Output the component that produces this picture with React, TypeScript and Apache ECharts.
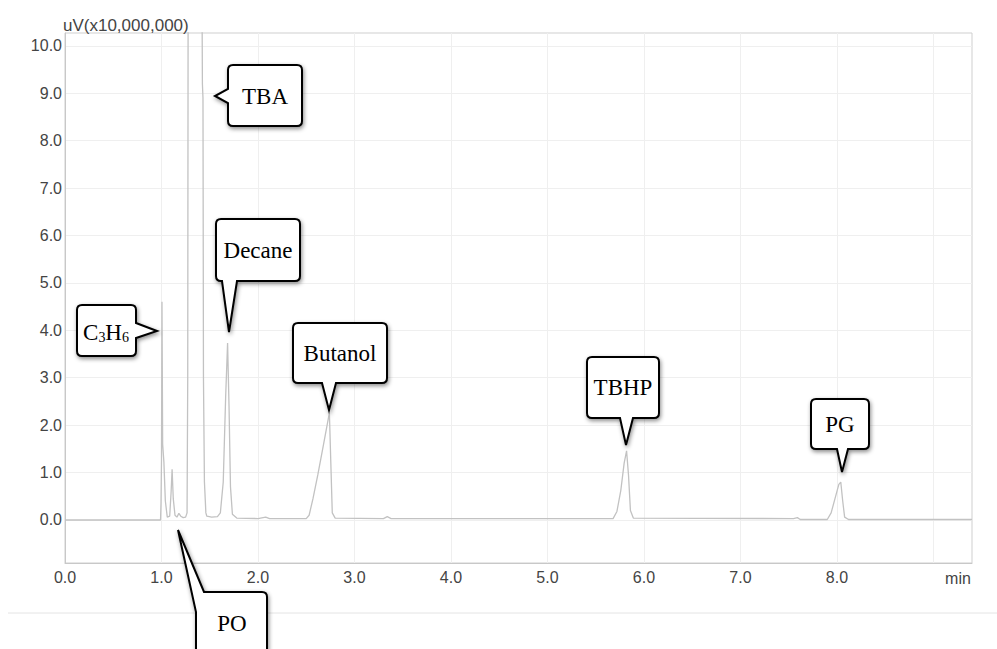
import React, { useEffect, useRef } from "react";
import * as echarts from "echarts";

// Chromatogram trace (retention time in min, signal in uV x 10,000,000)
const retentionTime = [
  0.0, 0.5, 0.99, 0.995, 1.0, 1.005, 1.012, 1.025, 1.04, 1.06, 1.085, 1.1, 1.11, 1.122,
  1.14, 1.16, 1.18, 1.2, 1.225, 1.25, 1.265, 1.272, 1.276, 1.42, 1.424, 1.43, 1.435,
  1.445, 1.46, 1.47, 1.52, 1.58, 1.61, 1.64, 1.665, 1.685, 1.7, 1.715, 1.735, 1.78,
  2.0, 2.08, 2.12, 2.5, 2.53, 2.57, 2.62, 2.68, 2.74, 2.755, 2.77, 2.8, 3.3, 3.34,
  3.38, 5.68, 5.72, 5.76, 5.795, 5.82, 5.84, 5.86, 5.89, 7.55, 7.59, 7.62, 7.9, 7.94,
  7.98, 8.02, 8.04, 8.06, 8.08, 8.12, 9.4,
];
const signal = [
  0.0, 0.0, 0.0, 0.35, 1.25, 4.6, 1.6, 1.22, 0.4, 0.06, 0.08, 0.6, 1.07, 0.45,
  0.1, 0.06, 0.14, 0.08, 0.05, 0.06, 0.15, 3.0, 11.0, 11.0, 9.2, 8.9, 3.0,
  0.8, 0.15, 0.08, 0.06, 0.07, 0.15, 0.8, 2.6, 3.73, 2.4, 0.7, 0.12, 0.04,
  0.03, 0.06, 0.03, 0.03, 0.1, 0.45, 0.95, 1.6, 2.26, 1.2, 0.15, 0.04, 0.03, 0.07,
  0.03, 0.03, 0.18, 0.62, 1.2, 1.46, 0.95, 0.2, 0.04, 0.03, 0.05, 0.01, 0.01, 0.15,
  0.45, 0.75, 0.8, 0.4, 0.06, 0.01, 0.01,
];

const yTickValues = [0, 1, 2, 3, 4, 5, 6, 7, 8, 9, 10];
const xLabelValues = [0, 1, 2, 3, 4, 5, 6, 7, 8];
const xGridValues = [0, 1, 2, 3, 4, 5, 6, 7, 8, 9];

const yAxisTitle = "uV(x10,000,000)";
const xAxisUnit = "min";

type Callout = {
  name: string;
  label: string;
  x: number; y: number; w: number; h: number;
  side: "left" | "right" | "bottom" | "topleft";
  tx: number; ty: number; b1: number; b2: number;
  cx: number; cy: number;
};

const callouts: Callout[] = [
  { name: "tba", label: "TBA", x: 228, y: 65, w: 74, h: 61, side: "left", tx: 215, ty: 96, b1: 89, b2: 103, cx: 265, cy: 96 },
  { name: "c3h6", label: "{a|C}{s|3}{a|H}{s|6}", x: 77, y: 305, w: 59, h: 51, side: "right", tx: 157, ty: 331, b1: 323, b2: 338, cx: 106, cy: 331 },
  { name: "decane", label: "Decane", x: 216, y: 219, w: 84, h: 62, side: "bottom", tx: 229, ty: 332, b1: 222, b2: 237, cx: 258, cy: 250 },
  { name: "butanol", label: "Butanol", x: 293, y: 323, w: 94, h: 60, side: "bottom", tx: 329, ty: 410, b1: 322, b2: 336, cx: 340, cy: 353 },
  { name: "tbhp", label: "TBHP", x: 587, y: 357, w: 72, h: 61, side: "bottom", tx: 626, ty: 445, b1: 620, b2: 633, cx: 623, cy: 387 },
  { name: "pg", label: "PG", x: 811, y: 399, w: 58, h: 50, side: "bottom", tx: 842, ty: 472, b1: 837, b2: 848, cx: 840, cy: 424 },
  { name: "po", label: "PO", x: 196, y: 592, w: 71, h: 80, side: "topleft", tx: 178, ty: 530, b1: 204, b2: 612, cx: 232, cy: 623 },
];

function calloutPath(c: Callout): string {
  const r = 5;
  const { x, y, w, h } = c;
  const R = x + w;
  const B = y + h;
  let d = "";
  if (c.side === "topleft") {
    d += `M${c.b1} ${y}`;
  } else {
    d += `M${x + r} ${y}`;
  }
  d += ` L${R - r} ${y} Q${R} ${y} ${R} ${y + r}`;
  if (c.side === "right") {
    d += ` L${R} ${c.b1} L${c.tx} ${c.ty} L${R} ${c.b2}`;
  }
  d += ` L${R} ${B - r} Q${R} ${B} ${R - r} ${B}`;
  if (c.side === "bottom") {
    d += ` L${c.b2} ${B} L${c.tx} ${c.ty} L${c.b1} ${B}`;
  }
  d += ` L${x + r} ${B} Q${x} ${B} ${x} ${B - r}`;
  if (c.side === "left") {
    d += ` L${x} ${c.b2} L${c.tx} ${c.ty} L${x} ${c.b1}`;
  }
  if (c.side === "topleft") {
    d += ` L${x} ${c.b2} L${c.tx} ${c.ty} Z`;
  } else {
    d += ` L${x} ${y + r} Q${x} ${y} ${x + r} ${y} Z`;
  }
  return d;
}

export default function App() {
  const ref = useRef<HTMLDivElement>(null);

  useEffect(() => {
    if (!ref.current) return;
    callouts.forEach((c) => {
      echarts.graphic.registerShape("callout_" + c.name, echarts.graphic.extendPath(calloutPath(c), {}));
    });
    const chart = echarts.init(ref.current, undefined, { renderer: "svg" });
    const sans = "Liberation Sans, Arial, sans-serif";
    const axisFont = { color: "#444", fontSize: 16, fontFamily: sans };
    const serif = "Liberation Serif, Times New Roman, serif";

    const graphics: any[] = [
      {
        type: "line",
        shape: { x1: 8, y1: 613, x2: 997, y2: 613 },
        style: { stroke: "#e4e4e4", lineWidth: 1 },
        z: 10,
      },
      {
        type: "text",
        x: 63,
        y: 25,
        style: { text: yAxisTitle, fill: "#444", fontSize: 17, fontFamily: sans, textAlign: "left", textVerticalAlign: "middle" },
        z: 10,
      },
      {
        type: "text",
        x: 958,
        y: 578,
        style: { text: xAxisUnit, fill: "#444", fontSize: 16, fontFamily: sans, textAlign: "center", textVerticalAlign: "middle" },
        z: 10,
      },
    ];
    callouts.forEach((c) => {
      graphics.push({
        type: "callout_" + c.name,
        x: 0,
        y: 0,
        z: 20,
        style: {
          fill: "#fff",
          stroke: "#000",
          lineWidth: 2,
          lineJoin: "miter",
          shadowBlur: 4,
          shadowColor: "rgba(0,0,0,0.45)",
          shadowOffsetX: 1,
          shadowOffsetY: 2,
        },
      });
      graphics.push({
        type: "text",
        x: c.cx,
        y: c.cy,
        z: 21,
        style: {
          text: c.label,
          fill: "#000",
          fontSize: 23,
          fontFamily: serif,
          textAlign: "center",
          textVerticalAlign: "middle",
          rich: {
            a: { fontSize: 23, fontFamily: serif, fill: "#000", verticalAlign: "bottom", lineHeight: 26 },
            s: { fontSize: 14, fontFamily: serif, fill: "#000", verticalAlign: "bottom", lineHeight: 22 },
          },
        },
      });
    });

    chart.setOption({
      animation: false,
      grid: { left: 65, right: 25, top: 33, bottom: 86, show: true, borderColor: "#cfcfcf", borderWidth: 1, backgroundColor: "transparent" },
      xAxis: {
        type: "value",
        min: 0,
        max: 9.4,
        axisLine: { show: true, onZero: false, lineStyle: { color: "#c8c8c8" } },
        axisTick: { show: false, customValues: xGridValues },
        axisLabel: { ...axisFont, customValues: xLabelValues, margin: 6, formatter: (v: number) => v.toFixed(1) },
        splitLine: { show: true, lineStyle: { color: "#efefef" } },
      },
      yAxis: {
        type: "value",
        min: -0.907,
        max: 10.27,
        axisLine: { show: true, onZero: false, lineStyle: { color: "#c8c8c8" } },
        axisTick: { show: false, customValues: yTickValues },
        axisLabel: { ...axisFont, customValues: yTickValues, margin: 3, formatter: (v: number) => v.toFixed(1) },
        splitLine: { show: true, lineStyle: { color: "#efefef" } },
      },
      series: [
        {
          type: "line",
          data: retentionTime.map((t, i) => [t, signal[i]]),
          showSymbol: false,
          symbol: "none",
          clip: true,
          silent: true,
          lineStyle: { color: "#c2c2c2", width: 1.3 },
        },
      ],
      graphic: graphics,
    });
    return () => chart.dispose();
  }, []);

  return <div ref={ref} style={{ position: "fixed", left: 0, top: 0, width: 997, height: 649, background: "#fff" }} />;
}
